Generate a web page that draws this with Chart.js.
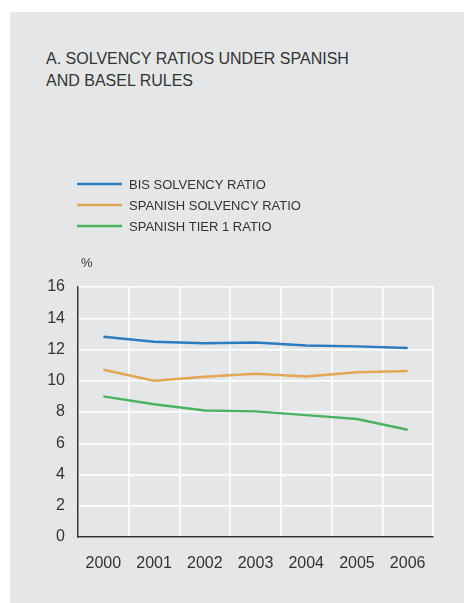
<!DOCTYPE html>
<html>
<head>
<meta charset="utf-8">
<script src="https://cdn.jsdelivr.net/npm/chart.js@4.4.1/dist/chart.umd.min.js"></script>
<style>
  html, body { margin: 0; padding: 0; background: #fff; }
  #panel {
    position: absolute; left: 10px; top: 12px; width: 454px; height: 591px;
    background: #e5e6e8;
  }
  #title {
    position: absolute; left: 36px; top: 36px;
    font: 16px "Liberation Sans", Arial, sans-serif; line-height: 22px;
    color: #333;
  }
  #chart { position: absolute; left: 0; top: 0; }
</style>
</head>
<body>
<div id="panel">
  <div id="title">A. SOLVENCY RATIOS UNDER SPANISH<br>AND BASEL RULES</div>
  <canvas id="chart" width="454" height="591"></canvas>
</div>
<script>
var years = ["2000", "2001", "2002", "2003", "2004", "2005", "2006"];
var bisSolvency = [12.82, 12.50, 12.40, 12.44, 12.25, 12.20, 12.10];
var spanishSolvency = [10.70, 10.00, 10.26, 10.45, 10.28, 10.55, 10.62];
var spanishTier1 = [9.00, 8.49, 8.09, 8.04, 7.80, 7.55, 6.87];
var yTicks = [0, 2, 4, 6, 8, 10, 12, 14, 16];

var textColor = "#333333";
var fontFamily = '"Liberation Sans", Arial, sans-serif';

// legend drawn as stacked rows above the plot, plus the "%" unit label
var sideLegend = {
  id: "sideLegend",
  afterDraw: function (chart) {
    var ctx = chart.ctx;
    ctx.save();
    ctx.font = "13px " + fontFamily;
    ctx.textBaseline = "middle";
    chart.data.datasets.forEach(function (ds, i) {
      var y = 172 + i * 21;
      ctx.strokeStyle = ds.borderColor;
      ctx.lineWidth = 2.5;
      ctx.beginPath();
      ctx.moveTo(67, y);
      ctx.lineTo(112, y);
      ctx.stroke();
      ctx.fillStyle = textColor;
      ctx.fillText(ds.label, 119, y + 1);
    });
    ctx.font = "13px " + fontFamily;
    ctx.fillText("%", 71, 251);
    ctx.restore();
  }
};

new Chart(document.getElementById("chart"), {
  type: "line",
  data: {
    labels: years,
    datasets: [
      { label: "BIS SOLVENCY RATIO", data: bisSolvency, borderColor: "#2b7bbf" },
      { label: "SPANISH SOLVENCY RATIO", data: spanishSolvency, borderColor: "#e2a654" },
      { label: "SPANISH TIER 1 RATIO", data: spanishTier1, borderColor: "#4cb262" }
    ]
  },
  options: {
    responsive: false,
    animation: false,
    layout: { padding: { left: 28, right: 31, top: 275, bottom: 21 } },
    elements: {
      line: { borderWidth: 2.5, tension: 0, fill: false },
      point: { radius: 0, hoverRadius: 0 }
    },
    plugins: { legend: { display: false }, tooltip: { enabled: false } },
    scales: {
      x: {
        offset: true,
        grid: { offset: true, color: "#ffffff", lineWidth: 1.5, drawTicks: false },
        border: { display: true, color: "#333333", width: 1.5 },
        ticks: { color: textColor, font: { family: fontFamily, size: 16 }, padding: 17, maxRotation: 0 },
        afterFit: function (s) { s.height = 45; }
      },
      y: {
        min: 0, max: 16,
        afterBuildTicks: function (s) { s.ticks = yTicks.map(function (v) { return { value: v }; }); },
        grid: { color: "#ffffff", lineWidth: 1.5, drawTicks: false },
        border: { display: true, color: "#333333", width: 1.5 },
        ticks: { color: textColor, font: { family: fontFamily, size: 16 }, padding: 13 },
        afterFit: function (s) { s.width = 40; }
      }
    }
  },
  plugins: [sideLegend]
});
</script>
</body>
</html>
